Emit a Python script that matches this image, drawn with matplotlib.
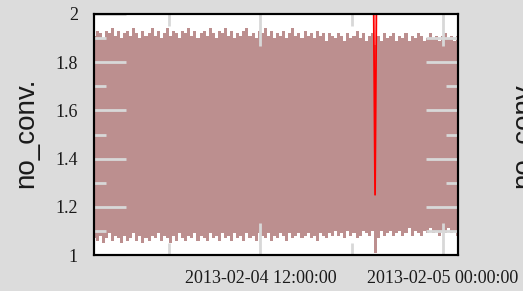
import matplotlib
matplotlib.use('Agg')
import matplotlib.pyplot as plt
import matplotlib.dates as mdates
from matplotlib.ticker import FixedLocator
import numpy as np
import pandas as pd

# time window of the record
t_start = '2013-02-04 01:04'
t_end = '2013-02-05 00:59'

# upper and lower swing of no_conv. for each sample
upper = [1.91, 1.93, 1.92, 1.90, 1.93, 1.92, 1.94, 1.91, 1.93, 1.90,
         1.92, 1.93, 1.91, 1.94, 1.92, 1.90, 1.93, 1.91, 1.92, 1.94,
         1.91, 1.93, 1.90, 1.92, 1.94, 1.91, 1.93, 1.92, 1.90, 1.93,
         1.92, 1.94, 1.91, 1.93, 1.90, 1.92, 1.93, 1.91, 1.94, 1.92,
         1.90, 1.93, 1.92, 1.94, 1.91, 1.93, 1.90, 1.92, 1.91, 1.93,
         1.94, 1.91, 1.92, 1.90, 1.93, 1.92, 1.94, 1.91, 1.93, 1.90,
         1.92, 1.91, 1.93, 1.90, 1.92, 1.94, 1.91, 1.92, 1.90, 1.93,
         1.91, 1.92, 1.90, 1.93, 1.91, 1.92, 1.89, 1.92, 1.91, 1.90,
         1.92, 1.91, 1.89, 1.92, 1.90, 1.91, 1.93, 1.90, 1.92, 1.89,
         1.91, 1.92, 1.87, 1.91, 1.89, 1.92, 1.90, 1.91, 1.92, 1.89,
         1.91, 1.90, 1.92, 1.89, 1.91, 1.90, 1.92, 1.91, 1.89, 1.90,
         1.92, 1.90, 1.91, 1.89, 1.91, 1.92, 1.90, 1.91, 1.89, 1.91]

lower = [1.07, 1.06, 1.08, 1.05, 1.07, 1.09, 1.06, 1.08, 1.07, 1.05,
         1.08, 1.06, 1.07, 1.09, 1.06, 1.08, 1.05, 1.07, 1.06, 1.08,
         1.07, 1.09, 1.06, 1.08, 1.07, 1.05, 1.08, 1.06, 1.09, 1.07,
         1.06, 1.08, 1.07, 1.09, 1.06, 1.08, 1.07, 1.06, 1.09, 1.07,
         1.08, 1.06, 1.09, 1.07, 1.08, 1.06, 1.09, 1.07, 1.08, 1.06,
         1.09, 1.07, 1.08, 1.06, 1.09, 1.08, 1.07, 1.09, 1.06, 1.08,
         1.07, 1.09, 1.08, 1.06, 1.09, 1.07, 1.08, 1.09, 1.07, 1.08,
         1.09, 1.07, 1.08, 1.06, 1.09, 1.08, 1.07, 1.09, 1.08, 1.10,
         1.08, 1.09, 1.07, 1.10, 1.08, 1.09, 1.07, 1.08, 1.10, 1.09,
         1.08, 1.10, 1.01, 1.07, 1.10, 1.08, 1.09, 1.10, 1.08, 1.09,
         1.10, 1.08, 1.09, 1.11, 1.08, 1.10, 1.09, 1.08, 1.10, 1.09,
         1.11, 1.09, 1.10, 1.08, 1.10, 1.09, 1.11, 1.09, 1.10, 1.08]

# the red series, off scale except for one dip
red_times = ['2013-02-04 19:24', '2013-02-04 19:32', '2013-02-04 19:40']
red_values = [2.40, 1.25, 2.40]

y_major = [1.0, 1.2, 1.4, 1.6, 1.8, 2.0]
y_minor = [1.1, 1.3, 1.5, 1.7, 1.9]
y2_major = [1.1, 1.2, 1.4, 1.6, 1.8, 1.9]
y2_minor = [1.3, 1.5, 1.7]

bg = '#dcdcdc'
tickc = '#d8d8d8'

t_up = pd.date_range(t_start, t_end, periods=len(upper))

fig = plt.figure(figsize=(5.23, 2.91), dpi=100, facecolor=bg)
ax = fig.add_axes([94 / 523, 1 - 255 / 291, 364 / 523, 241 / 291])
ax.set_facecolor('white')
ax.set_axisbelow(False)

ax.fill_between(t_up, lower, upper, step='mid', color='#bc8f8f', lw=0, zorder=2)
ax.plot(pd.to_datetime(red_times), red_values, color='#ff0000', lw=1.3, zorder=3)

ax.set_xlim(pd.Timestamp(t_start), pd.Timestamp(t_end))
ax.set_ylim(1, 2)

ax.xaxis.set_major_locator(mdates.HourLocator(byhour=[0, 12]))
ax.xaxis.set_minor_locator(mdates.HourLocator(byhour=[6, 18]))
ax.xaxis.set_major_formatter(mdates.DateFormatter('%Y-%m-%d %H:%M:%S'))
ax.yaxis.set_major_locator(FixedLocator(y_major))
ax.yaxis.set_minor_locator(FixedLocator(y_minor))
ax.set_yticklabels(['1', '1.2', '1.4', '1.6', '1.8', '2'])

ax.tick_params(which='both', direction='in', color=tickc, width=2,
               top=True, right=False, labelsize=13, labelcolor='#1a1a1a')
ax.tick_params(which='major', length=23)
ax.tick_params(which='minor', length=8.5)
ax.tick_params(axis='y', pad=11.5)
ax.tick_params(axis='x', pad=10.5)
for lab in ax.get_xticklabels() + ax.get_yticklabels():
    lab.set_family('Liberation Serif')

# ticks on the right side have their own layout
ax2 = ax.twinx()
ax2.set_ylim(1, 2)
ax2.yaxis.set_major_locator(FixedLocator(y2_major))
ax2.yaxis.set_minor_locator(FixedLocator(y2_minor))
ax2.tick_params(which='both', direction='in', color=tickc, width=2, labelright=False)
ax2.tick_params(which='major', length=23)
ax2.tick_params(which='minor', length=8.5)

for a in (ax, ax2):
    for s in a.spines.values():
        s.set_linewidth(1.5)
        s.set_color('black')
        s.set_zorder(5)

fig.text(13 / 523, 1 - 133 / 291, 'no_conv.', rotation=90, ha='left', va='center',
         fontsize=20, family='Liberation Sans', color='#1a1a1a')
fig.text(510 / 523, 1 - 133 / 291, 'no_conv.', rotation=90, ha='left', va='center',
         fontsize=20, family='Liberation Sans', color='#1a1a1a')

fig.savefig('out.png', dpi=100, facecolor=bg)
